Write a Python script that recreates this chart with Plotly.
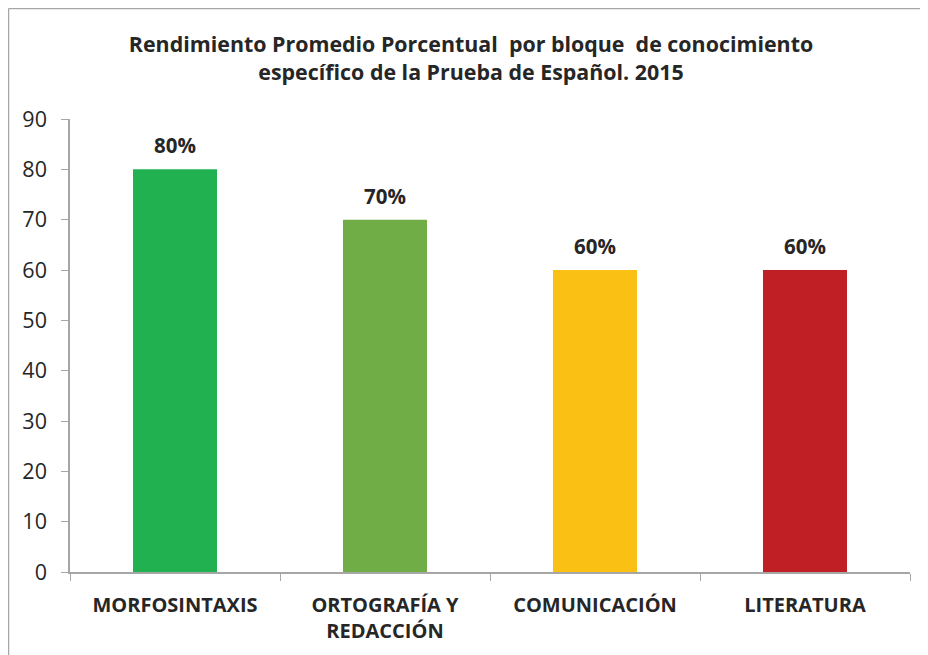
import plotly.graph_objects as go

categories = ["MORFOSINTAXIS", "ORTOGRAFÍA Y<br>REDACCIÓN", "COMUNICACIÓN", "LITERATURA"]
values = [80, 70, 60, 60]
labels = ["80%", "70%", "60%", "60%"]
colors = ["#21B150", "#70AD47", "#FBC014", "#C01F26"]
y_ticks = [0, 10, 20, 30, 40, 50, 60, 70, 80, 90]

W, H = 920, 647
L, R, T, B = 62, 18, 111, 83
PW, PH = W - L - R, H - T - B

fig = go.Figure()
fig.add_trace(go.Bar(
    x=categories, y=values,
    marker=dict(color=colors, line=dict(width=0)),
    cliponaxis=False, width=0.4, hoverinfo="skip",
))
for c, v, t in zip(categories, values, labels):
    fig.add_annotation(x=c, y=v, text="<b>" + t + "</b>", showarrow=False,
                       yshift=24, yanchor="middle",
                       font=dict(family="Open Sans", size=20.5, color="#262626"))

fig.update_layout(
    width=W, height=H,
    margin=dict(l=L, r=R, t=T, b=B),
    paper_bgcolor="white", plot_bgcolor="white",
    showlegend=False,
    title=dict(
        text="<b>Rendimiento Promedio Porcentual  por bloque  de conocimiento<br>específico de la Prueba de Español. 2015</b>",
        x=(471 - 8) / W, xanchor="center", y=1 - 44 / H, yanchor="middle",
        font=dict(family="Open Sans", size=21.4, color="#262626"),
    ),
    font=dict(family="Open Sans", color="#262626"),
)
fig.update_xaxes(
    showline=True, linecolor="#A6A6A6", linewidth=1.5,
    ticks="outside", tickson="boundaries", ticklen=7, tickcolor="#A6A6A6",
    tickfont=dict(family="Open Sans", size=20, color="#262626", weight="bold"),
    ticklabelstandoff=14,
    showgrid=False,
)
fig.update_yaxes(
    range=[0, 90], tickvals=y_ticks, showline=True, linecolor="#A6A6A6", linewidth=1.5,
    ticks="outside", ticklen=7, tickcolor="#A6A6A6",
    tickfont=dict(family="Open Sans", size=21.5, color="#262626"),
    ticklabelstandoff=10,
    showgrid=False, zeroline=False,
)
# chart border (top and left edges visible)
top_y = 1 + (T - 0.5) / PH
left_x = -(L - 0.5) / PW
fig.add_shape(type="line", xref="paper", yref="paper",
              x0=left_x, x1=1 + R / PW, y0=top_y, y1=top_y,
              line=dict(color="#A6A6A6", width=1.5))
fig.add_shape(type="line", xref="paper", yref="paper",
              x0=left_x, x1=left_x, y0=-B / PH, y1=top_y,
              line=dict(color="#A6A6A6", width=1.5))

fig.write_html("out.html")
